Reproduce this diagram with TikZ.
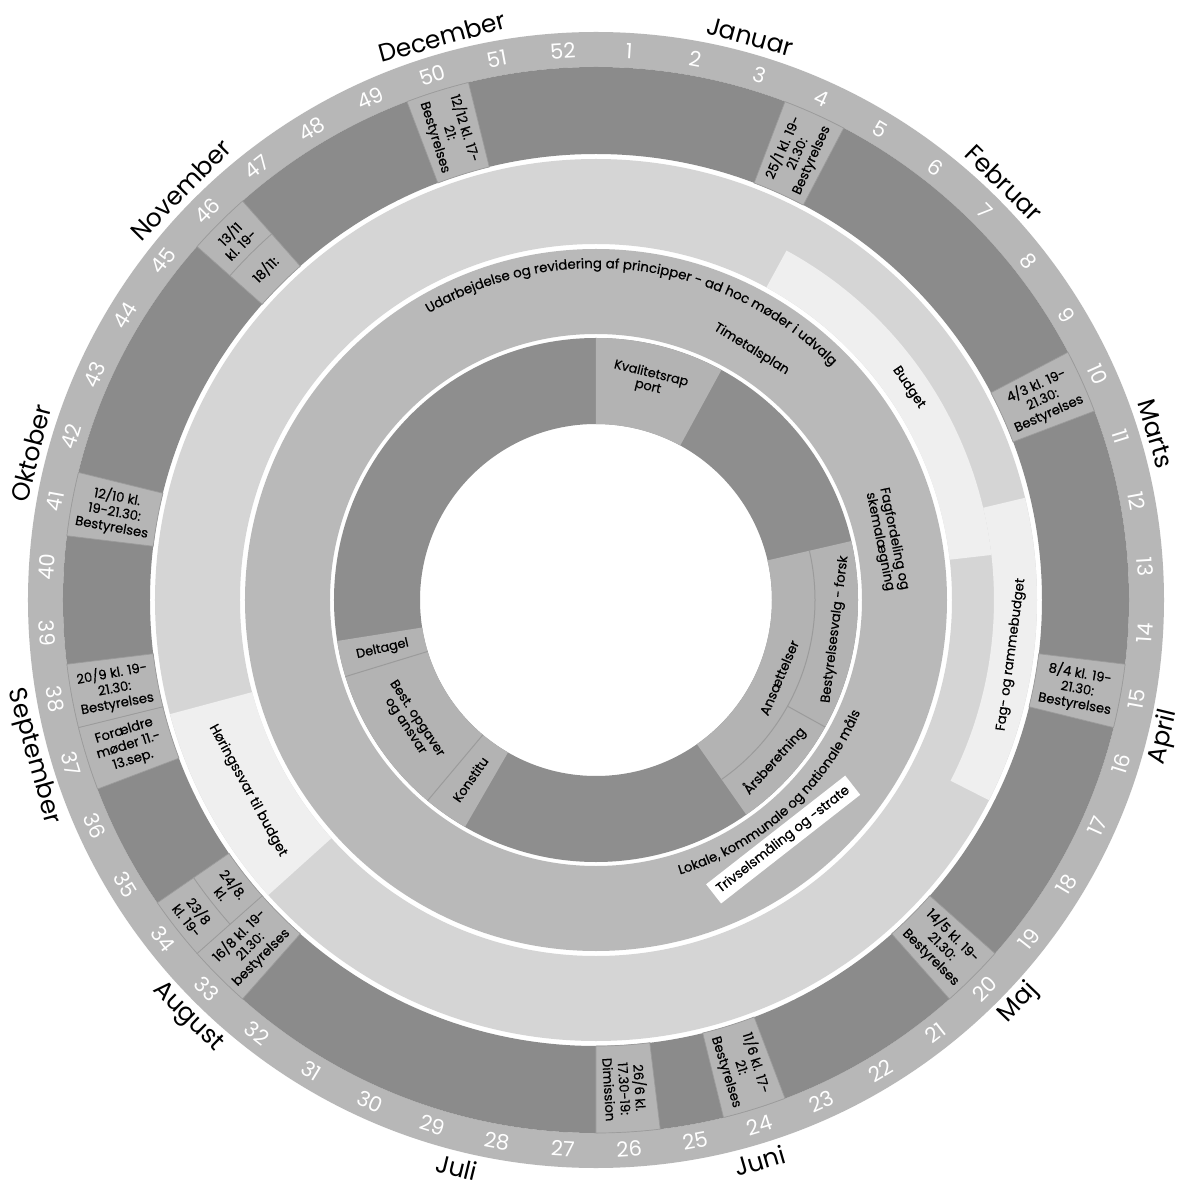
\documentclass[tikz,border=0pt]{standalone}
\usepackage{fontspec}
\setmainfont{Poppins}
\newfontfamily\popm{Poppins}[FakeBold=0.6]
\usetikzlibrary{decorations.text}

\definecolor{weekring}{HTML}{B7B7B7}
\definecolor{darkring}{HTML}{8B8B8B}
\definecolor{boxgray}{HTML}{B5B5B5}
\definecolor{lightring}{HTML}{D5D5D5}
\definecolor{hilite}{HTML}{EFEFEF}
\definecolor{midring}{HTML}{B9B9B9}
\definecolor{innerdark}{HTML}{8E8E8E}
\definecolor{innerlight}{HTML}{B3B3B3}
\definecolor{sepline}{HTML}{9B9B9B}

\newcommand\fs[2]{\fontsize{#1}{#2}\selectfont}

% ring segment: #1 inner r, #2 outer r, #3 start, #4 end (deg clockwise from top), #5 style
\newcommand\ringseg[5]{%
  \path[#5] ({90-(#3)}:#2pt) arc[start angle={90-(#3)}, end angle={90-(#4)}, radius=#2pt]
    -- ({90-(#4)}:#1pt) arc[start angle={90-(#4)}, end angle={90-(#3)}, radius=#1pt] -- cycle;}

\tikzset{
  weeknum/.style={text=white, font=\fs{21}{24}, inner sep=0pt},
  monthlbl/.style={text=black, font=\fs{25}{30}, inner sep=0pt},
  meettext/.style={text=black, font=\popm\fs{13.2}{15.3}, align=center, inner sep=0pt},
  ringtext/.style={text=black, font=\popm\fs{13.2}{14.5}, align=center, inner sep=0pt},
  boxfill/.style={fill=boxgray, draw=sepline, line width=0.7pt},
}

% meeting box: #1 name, #2 week, #3 r1, #4 r2, #5 mode (0 radial, 1 tangential), #6 text
\newcommand\meetbox[6]{%
  \pgfmathsetmacro\mc{(#2-0.5)*6.9230769}%
  \pgfmathsetmacro\ma{\mc-3.4615385}%
  \pgfmathsetmacro\mb{\mc+3.4615385}%
  \ringseg{#3}{#4}{\ma}{\mb}{boxfill}%
  \pgfmathsetmacro\mr{(#3+#4)/2}%
  \ifnum#5=0
    \pgfmathsetmacro\mrot{(\mc<180) ? (90-\mc) : (270-\mc)}%
  \else
    \pgfmathsetmacro\mrot{((\mc>90) && (\mc<270)) ? (180-\mc) : (-\mc)}%
  \fi
  \node[meettext, rotate=\mrot] (#1) at ({90-\mc}:\mr pt) {#6};%
}

\begin{document}
\begin{tikzpicture}
\useasboundingbox (-596pt,-591pt) rectangle (587pt,600pt);
\fill[white] (-596pt,-591pt) rectangle (587pt,600pt);

% ---- base rings ----
\fill[weekring, even odd rule] (0,0) circle[radius=568pt] (0,0) circle[radius=533pt];
\fill[darkring, even odd rule] (0,0) circle[radius=533pt] (0,0) circle[radius=446pt];
\fill[lightring, even odd rule] (0,0) circle[radius=441pt] (0,0) circle[radius=356pt];
\fill[midring, even odd rule] (0,0) circle[radius=351pt] (0,0) circle[radius=266pt];
\fill[innerdark, even odd rule] (0,0) circle[radius=262pt] (0,0) circle[radius=176pt];

% ---- light ring highlights ----
\ringseg{356}{398}{28.6}{83.5}{fill=hilite}
\ringseg{398}{441}{76.6}{117}{fill=hilite}
\ringseg{356}{441}{228}{255}{fill=hilite}

% ---- inner ring light segments ----
\ringseg{176}{262}{0}{28.6}{fill=innerlight}
\ringseg{176}{262}{77}{145}{fill=innerlight}
\ringseg{176}{262}{210}{261}{fill=innerlight}
\draw[sepline, line width=1pt] ({90-77}:219pt) arc[start angle={90-77}, end angle={90-145}, radius=219pt];
\draw[sepline, line width=1pt] ({90-119}:219pt) -- ({90-119}:262pt);
\draw[sepline, line width=1pt] ({90-220}:176pt) -- ({90-220}:262pt);
\draw[sepline, line width=1pt] ({90-253}:176pt) -- ({90-253}:262pt);

% ---- meeting boxes ----
\meetbox{b1212}{50}{446}{533}{0}{12/12 kl. 17-\\21:\\Bestyrelses}
\meetbox{b2501}{4}{446}{533}{0}{25/1 kl. 19-\\21.30:\\Bestyrelses}
\meetbox{b0403}{10}{446}{533}{0}{4/3 kl. 19-\\21.30:\\Bestyrelses}
\meetbox{b0804}{15}{446}{533}{0}{8/4 kl. 19-\\21.30:\\Bestyrelses}
\meetbox{b1405}{20}{446}{533}{0}{14/5 kl. 19-\\21.30:\\Bestyrelses}
\meetbox{b1106}{24}{446}{533}{0}{11/6 kl. 17-\\21:\\Bestyrelses}
\meetbox{b2606}{26}{446}{533}{0}{26/6 kl.\\17.30-19:\\Dimission}
\meetbox{b1608}{33}{446}{533}{0}{16/8 kl. 19-\\21.30:\\bestyrelses}
\meetbox{b2408}{34}{446}{489}{1}{24/8.\\kl.}
\meetbox{b2308}{34}{489}{533}{1}{23/8\\kl. 19-}
\meetbox{bforaeld}{37}{446}{533}{0}{Forældre\\møder 11.-\\13.sep.}
\meetbox{b2009}{38}{446}{533}{0}{20/9 kl. 19-\\21.30:\\Bestyrelses}
\meetbox{b1210}{41}{446}{533}{0}{12/10 kl.\\19-21.30:\\Bestyrelses}
\meetbox{b1311}{46}{489}{533}{1}{13/11\\kl. 19-}
\meetbox{b1811}{46}{446}{489}{1}{18/11:}

% ---- week numbers ----
\foreach \k in {1,...,52} {
  \pgfmathsetmacro\th{(\k-0.5)*6.9230769}
  \pgfmathsetmacro\rot{((\th>90) && (\th<270)) ? (180-\th) : (-\th)}
  \node[weeknum, rotate=\rot] (w\k) at ({90-\th}:550pt) {\k};
}

% ---- month names ----
\foreach \m/\d [count=\i] in {Januar/15.5, Februar/45, Marts/74.5, April/105, Maj/135.5, Juni/166, Juli/196.5, August/227.5, September/258, Oktober/288.5, November/319, December/349.5} {
  \pgfmathsetmacro\th{\d*0.98630137}
  \pgfmathsetmacro\rot{((\th>90) && (\th<270)) ? (180-\th) : (-\th)}
  \node[monthlbl, rotate=\rot] (m\i) at ({90-\th}:584pt) {\m};
}

% ---- light ring texts ----
\node[ringtext, rotate=-55.8] (budget) at ({90-55.8}:378pt) {Budget};
\node[ringtext, rotate=82.5] (fagramme) at ({90-97.5}:419pt) {Fag- og rammebudget};
\node[ringtext, font=\popm\fs{13.5}{15}, rotate=-61.3] (hering) at ({90-241.3}:397pt) {Høringssvar til budget};

% ---- middle ring texts ----
\path[decorate, decoration={text along path, text align=center,
  text={|\popm\fs{13.4}{15}|Udarbejdelse og revidering af principper - ad hoc møder i udvalg}}]
  ({90+40}:332pt) arc[start angle={90+40}, end angle={90-55}, radius=332pt];
\node[ringtext, rotate=-31.8] (timetal) at ({90-31.8}:295pt) {Timetalsplan};
\node[ringtext, rotate=-78.4] (fagford) at ({90-78.4}:297pt) {Fagfordeling og\\skemalægning};
\path[decorate, decoration={text along path, text align=center,
  text={|\popm\fs{13.2}{15}|Lokale, kommunale og nationale måls}}]
  ({90-172}:287pt) arc[start angle={90-172}, end angle={90-104}, radius=287pt];
\node[ringtext, fill=white, inner xsep=6pt, inner ysep=5pt, rotate=38] (trivsel) at ({90-142}:304pt) {Trivselsmåling og -strate};

% ---- inner ring texts ----
\node[ringtext, font=\popm\fs{12.8}{13.5}, rotate=-13.7] (kval) at ({90-13.7}:226pt) {Kvalitetsrap\\port};
\node[ringtext, font=\popm\fs{12.8}{14}, rotate=13] (delt) at ({90-257}:219pt) {Deltagel};
\node[ringtext, font=\popm\fs{12.8}{13.5}, rotate=-56.5] (bestopg) at ({90-236.5}:222pt) {Best. opgaver\\og ansvar};
\node[ringtext, font=\popm\fs{12.8}{14}, rotate=55] (konst) at ({90-215}:219pt) {Konstitu};
\node[ringtext, rotate=67] (ansaet) at ({90-113}:199pt) {Ansættelser};
\node[ringtext, rotate=83] (bestval) at ({90-97}:241pt) {Bestyrelsesvalg - forsk};
\node[ringtext, rotate=48] (aarsb) at ({90-132}:240pt) {Årsberetning};
\end{tikzpicture}
\end{document}
